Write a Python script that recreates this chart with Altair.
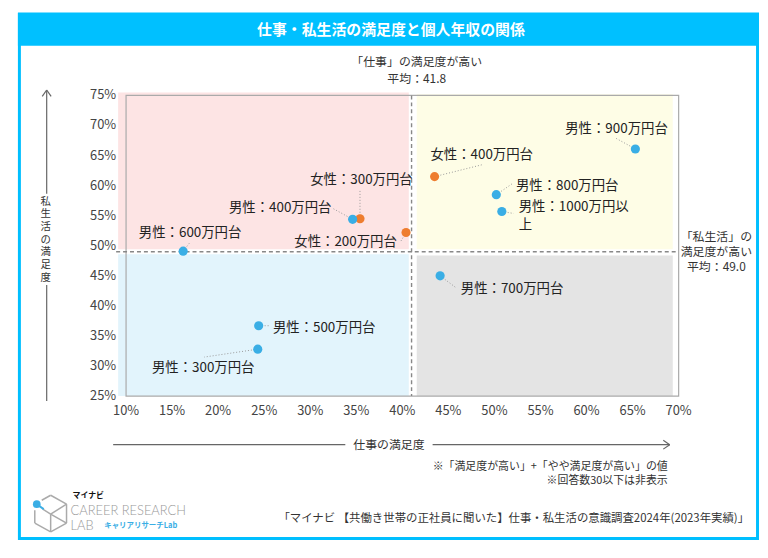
import altair as alt
import pandas as pd

# ---------------- data ----------------
labels = ["男性：900万円台", "女性：400万円台", "男性：800万円台", "男性：1000万円以\n上",
          "女性：300万円台", "男性：400万円台", "女性：200万円台", "男性：600万円台",
          "男性：700万円台", "男性：500万円台", "男性：300万円台"]
gender = ["男性", "女性", "男性", "男性", "女性", "男性", "女性", "男性", "男性", "男性", "男性"]
work_sat = [65.3, 43.5, 50.2, 50.8, 35.4, 34.6, 40.4, 16.2, 44.1, 24.4, 24.3]
life_sat = [66.1, 61.5, 58.5, 55.7, 54.5, 54.4, 52.2, 49.1, 45.0, 36.7, 32.8]

x_ticks = [10, 15, 20, 25, 30, 35, 40, 45, 50, 55, 60, 65, 70]
y_ticks = [25, 30, 35, 40, 45, 50, 55, 60, 65, 70, 75]
avg_work_text = "41.8"
avg_life_text = "49.0"
avg_work_line = 41.0
avg_life_line = 49.0

quad_x = [9.14, 41.56, 9.14, 41.56]
quad_x2 = [40.7, 69.36, 40.7, 69.36]
quad_y = [49.4, 49.4, 25.0, 25.0]
quad_y2 = [75.5, 75.2, 48.6, 48.4]
quad_col = ["#fde4e4", "#fefde6", "#e2f4fc", "#e4e4e4"]

# ---------------- styling / layout ----------------
FONT = "Noto Sans CJK JP"
BLUE = "#3aaee5"
ORANGE = "#ee7d2f"
FRAME = "#00bfff"
W, H = 557, 303
OX, OY = 127, 94  # page position of plot origin
XPX = W / 60.0
YPX = H / 50.0

# label offsets (pixels) : text dx, dy, connector end dx, dy, align
label_style = [
    (-19, -20, -20, -11, "center"),
    (47.5, -22, 48, -12, "center"),
    (71.5, -9, 16, -11, "center"),
    (17, -11, 12, 2, "left"),
    (1.5, -39, 0, -30, "center"),
    (-73, -11, -20, -11, "center"),
    (-61, 10, -6, 10, "center"),
    (7, -18, 7, -9, "center"),
    (72.5, 13, 16, 12, "center"),
    (66, 2, 11, 0, "center"),
    (-55, 19, -54, 8, "center"),
]

df = pd.DataFrame({"label": labels, "gender": gender, "x": work_sat, "y": life_sat})
df["cx2"] = [x + s[2] / XPX for x, s in zip(work_sat, label_style)]
df["cy2"] = [y - s[3] / YPX for y, s in zip(life_sat, label_style)]

qdf = pd.DataFrame({"x": quad_x, "x2": quad_x2, "y": quad_y, "y2": quad_y2, "c": quad_col})
xt_df = pd.DataFrame({"v": x_ticks, "t": [f"{v}%" for v in x_ticks]})
yt_df = pd.DataFrame({"v": y_ticks, "t": [f"{v}%" for v in y_ticks]})
dummy = pd.DataFrame({"a": [0]})

xs = alt.Scale(domain=[10, 70], nice=False, zero=False)
ys = alt.Scale(domain=[25, 75], nice=False, zero=False)


def px(v):
    return v - OX


def py(v):
    return v - OY


def rule(x1, y1, x2, y2, color="#666", width=1.2, dash=None):
    kw = dict(color=color, strokeWidth=width)
    if dash:
        kw["strokeDash"] = dash
    return alt.Chart(dummy).mark_rule(**kw).encode(
        x=alt.value(px(x1)), y=alt.value(py(y1)), x2=alt.value(px(x2)), y2=alt.value(py(y2)))


def text(t, x, y, size=12, color="#333", align="center", weight="normal", font=FONT, baseline="middle"):
    kw = dict(font=font, fontSize=size, color=color, align=align, fontWeight=weight, baseline=baseline)
    return alt.Chart(dummy).mark_text(**kw).encode(
        x=alt.value(px(x)), y=alt.value(py(y)), text=alt.value(t))


def XN(f):
    return alt.X(f, scale=xs, axis=None)


def YN(f):
    return alt.Y(f, scale=ys, axis=None)


layers = []

# frame and title bar
layers.append(alt.Chart(dummy).mark_rect(fill="white", stroke=FRAME, strokeWidth=3).encode(
    x=alt.value(px(19.5)), x2=alt.value(px(763.5)), y=alt.value(py(12)), y2=alt.value(py(540.5))))
layers.append(alt.Chart(dummy).mark_rect(color="#00c0ff").encode(
    x=alt.value(px(18)), x2=alt.value(px(765)), y=alt.value(py(11)), y2=alt.value(py(44))))
layers.append(text("仕事・私生活の満足度と個人年収の関係", 394, 28, size=15, color="white", weight="bold"))

# quadrants
layers.append(alt.Chart(qdf).mark_rect().encode(
    x=XN("x:Q"), x2="x2:Q", y=YN("y:Q"), y2="y2:Q", color=alt.Color("c:N", scale=None)))

# plot frame
layers.append(alt.Chart(dummy).mark_rect(fill="transparent", stroke="#aaa", strokeWidth=1.2).encode(
    x=alt.value(0), x2=alt.value(W), y=alt.value(0), y2=alt.value(H)))

# axis tick labels (through the scales)
layers.append(alt.Chart(xt_df).mark_text(font=FONT, fontSize=13, color="#444", baseline="middle").encode(
    x=XN("v:Q"), y=alt.value(H + 15), text="t:N"))
layers.append(alt.Chart(yt_df).mark_text(font=FONT, fontSize=13, color="#444", baseline="middle",
                                          align="right").encode(
    y=YN("v:Q"), x=alt.value(-10), text="t:N"))

# average lines
avg_df = pd.DataFrame({"xv": [avg_work_line], "yv": [avg_life_line]})
layers.append(alt.Chart(avg_df).mark_rule(color="#888", strokeWidth=1.4, strokeDash=[4, 3]).encode(
    x=XN("xv:Q"), y=alt.value(0), y2=alt.value(H)))
layers.append(alt.Chart(avg_df).mark_rule(color="#888", strokeWidth=1.4, strokeDash=[4, 3]).encode(
    y=YN("yv:Q"), x=alt.value(px(117)), x2=alt.value(px(683))))

# connectors
layers.append(alt.Chart(df).mark_rule(color="#999", strokeWidth=1, strokeDash=[1, 2]).encode(
    x=XN("x:Q"), y=YN("y:Q"), x2="cx2:Q", y2="cy2:Q"))

# points
layers.append(alt.Chart(df).mark_circle(size=85, opacity=1).encode(
    x=XN("x:Q"), y=YN("y:Q"),
    color=alt.Color("gender:N", scale=alt.Scale(domain=["男性", "女性"], range=[BLUE, ORANGE]), legend=None)))

# point labels
for lab, st in zip(labels, label_style):
    kw = dict(font=FONT, fontSize=13.5, color="#222", align=st[4], dx=st[0], dy=st[1],
              baseline="top" if st[4] == "left" else "middle")
    if "\n" in lab:
        kw["lineBreak"] = "\n"
        kw["lineHeight"] = 18
    layers.append(alt.Chart(df[df["label"] == lab]).mark_text(**kw).encode(
        x=XN("x:Q"), y=YN("y:Q"), text="label:N"))

# annotations
layers.append(text("「仕事」の満足度が高い", 420, 60, size=12))
layers.append(text("平均：" + avg_work_text, 420, 77, size=12))
layers.append(text("「私生活」の", 722, 237, size=12))
layers.append(text("満足度が高い", 722, 252, size=12))
layers.append(text("平均：" + avg_life_text, 722, 267, size=12))

# y-axis title with arrow (characters stacked vertically)
layers.append(rule(47, 402, 47, 285))
layers.append(rule(47, 193, 47, 89))
layers.append(rule(47, 88.5, 42.5, 95))
layers.append(rule(47, 88.5, 51.5, 95))
for i, ch in enumerate("私生活の満足度"):
    layers.append(text(ch, 46, 201 + i * 12.8, size=10.5))

# x-axis title with arrow
layers.append(rule(114, 446, 348, 446))
layers.append(rule(436, 446, 675, 446))
layers.append(rule(675, 446, 668.5, 441.5))
layers.append(rule(675, 446, 668.5, 450.5))
layers.append(text("仕事の満足度", 392, 446, size=12))

# notes
layers.append(text("※「満足度が高い」+「やや満足度が高い」の値", 673, 469, size=11, align="right"))
layers.append(text("※回答数30以下は非表示", 673, 483, size=11, align="right"))
layers.append(text("「マイナビ 【共働き世帯の正社員に聞いた】仕事・私生活の意識調査2024年(2023年実績)」",
                   755, 521, size=11.5, align="right"))

# logo
for seg in [(51, 497, 67, 506), (67, 506, 67, 525), (67, 525, 51, 534), (51, 534, 35, 525),
            (35, 525, 35, 512), (51, 497, 42, 502), (51, 516, 67, 506), (51, 516, 51, 534),
            (43, 511, 51, 516), (51, 516, 67, 525)]:
    layers.append(rule(*seg, color="#aaa", width=1.5))
layers.append(alt.Chart(dummy).mark_circle(size=60, opacity=1, color=BLUE).encode(
    x=alt.value(px(37)), y=alt.value(py(506))))
layers.append(rule(37, 506, 44, 511, color=BLUE, width=2))
layers.append(text("マイナビ", 73, 498, size=8, color="#111", align="left", weight="bold"))
layers.append(text("CAREER RESEARCH", 71, 513, size=13, color="#999", align="left", weight=300, font="Lato"))
layers.append(text("LAB", 71, 528, size=13, color="#999", align="left", weight=300, font="Lato"))
layers.append(text("キャリアリサーチLab", 105, 528, size=7.5, color=BLUE, align="left", weight="bold"))

chart = alt.layer(*layers).properties(
    width=W, height=H,
    autosize=alt.AutoSizeParams(type="none"),
    padding={"left": OX - 8, "top": OY - 8, "right": 758 - (OX - 8) - W, "bottom": 540 - (OY - 8) - H},
    background="white",
).configure_view(stroke=None)

chart.save("out.html", embed_options={"renderer": "svg", "actions": False})
